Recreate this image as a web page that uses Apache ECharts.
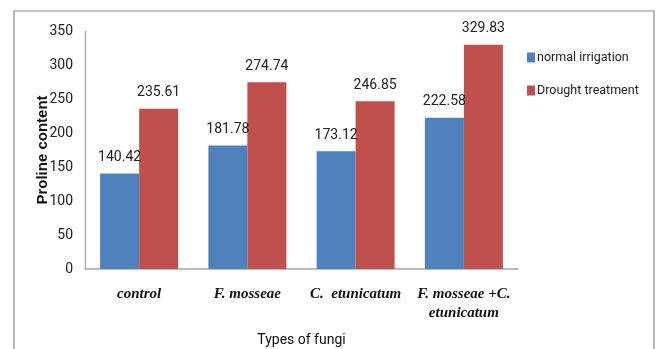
<!DOCTYPE html>
<html><head><meta charset="utf-8">
<script src="https://cdn.jsdelivr.net/npm/echarts@6/dist/echarts.min.js"></script>
<style>html,body{margin:0;padding:0;background:#fff}#c{width:667px;height:349px}</style>
</head><body><div id="c"></div>
<script>
const categories = ['control', 'F. mosseae', 'C.  etunicatum', 'F. mosseae +C.\netunicatum'];
const normalIrrigation = [140.42, 181.78, 173.12, 222.58];
const droughtTreatment = [235.61, 274.74, 246.85, 329.83];
const seriesNames = ['normal irrigation', 'Drought treatment'];
const yTicks = { min: 0, max: 350, interval: 50 };

const SANS = 'Roboto';
const chart = echarts.init(document.getElementById('c'), null, { renderer: 'canvas' });
const labelFont = { show: true, position: 'top', distance: 9, fontFamily: SANS, fontSize: 14, color: '#222' };
chart.setOption({
  animation: false,
  backgroundColor: '#fff',
  graphic: [{
    type: 'rect', shape: { x: 14, y: 11, width: 640, height: 360 },
    style: { fill: 'none', stroke: '#8c8c8c', lineWidth: 1.2 }, silent: true
  }],
  grid: { left: 85, top: 31, width: 433, height: 238, outerBoundsMode: 'none', containLabel: false },
  legend: {
    orient: 'vertical', left: 522, top: 46, itemGap: 20,
    itemWidth: 8, itemHeight: 10, icon: 'rect',
    textStyle: { fontFamily: SANS, fontSize: 12.5, color: '#222', padding: [0, 0, 0, -3] },
    data: seriesNames
  },
  xAxis: {
    type: 'category', data: categories,
    name: 'Types of fungi', nameLocation: 'middle', nameGap: 64, nameMoveOverlap: false,
    nameTextStyle: { fontFamily: SANS, fontSize: 14, color: '#111' },
    axisLine: { lineStyle: { color: '#a6a6a6', width: 1.5 } },
    axisTick: { show: false },
    axisLabel: { margin: 16, interval: 0, fontFamily: 'Liberation Serif', fontStyle: 'italic', fontWeight: 'bold', fontSize: 15, color: '#111', lineHeight: 19 }
  },
  yAxis: {
    type: 'value', min: yTicks.min, max: yTicks.max, interval: yTicks.interval,
    name: 'Proline content', nameLocation: 'middle', nameGap: 35, nameMoveOverlap: false,
    nameTextStyle: { fontFamily: 'Liberation Sans', fontWeight: 'bold', fontSize: 15, color: '#111' },
    axisLine: { show: true, lineStyle: { color: '#a6a6a6', width: 1.2 } },
    axisTick: { show: false },
    splitLine: { show: false },
    axisLabel: { margin: 12, fontFamily: SANS, fontSize: 14, color: '#222' }
  },
  series: [
    { name: seriesNames[0], type: 'bar', data: normalIrrigation, barWidth: 39, barGap: '0%', itemStyle: { color: '#4f81bd' }, label: labelFont },
    { name: seriesNames[1], type: 'bar', data: droughtTreatment, barWidth: 39, barGap: '0%', itemStyle: { color: '#c0504d' }, label: labelFont }
  ]
});
</script></body></html>
